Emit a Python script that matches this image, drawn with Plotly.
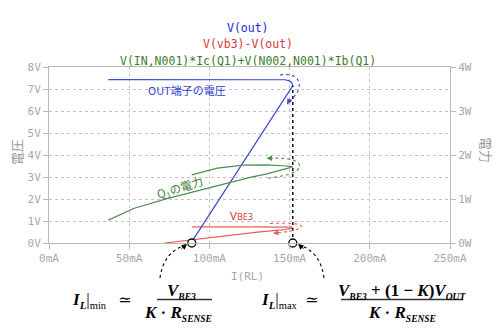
import plotly.graph_objects as go

# ---------------- data ----------------
# V(out) vs I(RL)  [mA, V]
i_out = [37, 60, 90, 120, 140, 147, 149.5, 151.2, 152, 140, 120, 100, 89]
v_out = [7.43, 7.43, 7.43, 7.43, 7.43, 7.42, 7.38, 7.30, 7.15, 5.80, 3.54, 1.29, 0.05]

# V(vb3)-V(out) vs I(RL)  [mA, V]
i_vbe = [72, 90, 110, 130, 145, 150, 152, 151, 140, 120, 100, 89]
v_vbe = [0.0, 0.16, 0.33, 0.49, 0.60, 0.64, 0.67, 0.72, 0.73, 0.73, 0.73, 0.73]

# Q1 power vs I(RL)  [mA, W]
i_pq = [37, 52.7, 73.5, 95, 115, 125.4, 135.8, 145, 152, 148, 136, 121, 105, 89]
p_q = [0.52, 0.785, 1.01, 1.21, 1.39, 1.49, 1.57, 1.66, 1.73, 1.75, 1.775, 1.77, 1.70, 1.55]

# limit points I_L|min and I_L|max
i_lim = [89, 152]
v_lim = [0, 0]
v_max_line = [0, 7.15]

x_ticks = [0, 50, 100, 150, 200, 250]
x_labels = ["0mA", "50mA", "100mA", "150mA", "200mA", "250mA"]
y_ticks = [0, 1, 2, 3, 4, 5, 6, 7, 8]
y_labels = ["0V", "1V", "2V", "3V", "4V", "5V", "6V", "7V", "8V"]
y2_ticks = [0, 1, 2, 3, 4]
y2_labels = ["0W", "1W", "2W", "3W", "4W"]

title_lines = ["V(out)", "V(vb3)-V(out)", "V(IN,N001)*Ic(Q1)+V(N002,N001)*Ib(Q1)"]

# ---------------- styling ----------------
BLUE = "#3b4bd8"
RED = "#e4615a"
GREEN = "#4f8f4f"
T_BLUE = "#2525d8"
T_RED = "#d83a3a"
T_GREEN = "#3c7d2c"
GRAY = "#a8a8a8"
AXC = "#b8b8b8"
MONO = "DejaVu Sans Mono"
SERIF = "Liberation Serif, DejaVu Serif, serif"
CJK = "Noto Sans CJK JP"

W_, H_ = 502, 335
L, R, T, B = 49, 450, 67, 243


def fx(x):
    return (x - L) / (R - L)


def fy(y):
    return (B - y) / (B - T)


def path(cmds):
    out = []
    for c in cmds:
        if isinstance(c, str):
            out.append(c)
        else:
            out.append(f"{fx(c[0]):.5f},{fy(c[1]):.5f}")
    return " ".join(out)


fig = go.Figure()

fig.add_trace(go.Scatter(x=i_pq, y=p_q, mode="lines", yaxis="y2",
                         line=dict(color=GREEN, width=1.2), hoverinfo="skip"))
fig.add_trace(go.Scatter(x=i_vbe, y=v_vbe, mode="lines",
                         line=dict(color=RED, width=1.2), hoverinfo="skip"))
fig.add_trace(go.Scatter(x=i_out, y=v_out, mode="lines",
                         line=dict(color=BLUE, width=1.2), hoverinfo="skip"))
fig.add_trace(go.Scatter(x=[i_lim[1], i_lim[1]], y=v_max_line, mode="lines",
                         line=dict(color="black", width=1.4, dash="dot"), hoverinfo="skip"))
fig.add_trace(go.Scatter(x=i_lim, y=v_lim, mode="markers", cliponaxis=False,
                         marker=dict(symbol="circle", size=8, color="white",
                                     line=dict(color="black", width=1.3)),
                         hoverinfo="skip"))

shapes = []
dot = dict(width=1.1, dash="dot")
# curved dotted direction arrows (pixel coordinates converted to paper)
shapes.append(dict(type="path", xref="paper", yref="paper",
                   path=path(["M", (280, 75), "C", (297, 72), (303, 82), (297, 93), "L", (288, 104)]),
                   line=dict(color=BLUE, **dot)))
shapes.append(dict(type="path", xref="paper", yref="paper",
                   path=path(["M", (268, 178), "C", (290, 176), (303, 170), (299, 164),
                              "C", (296, 159), (285, 158), (270, 158)]),
                   line=dict(color=GREEN, **dot)))
shapes.append(dict(type="path", xref="paper", yref="paper",
                   path=path(["M", (270, 223.5), "C", (292, 222.5), (306, 224), (300, 228),
                              "C", (295, 231), (285, 232), (276, 233)]),
                   line=dict(color=RED, **dot)))
shapes.append(dict(type="path", xref="paper", yref="paper",
                   path=path(["M", (160, 278), "Q", (163, 253), (185, 245)]),
                   line=dict(color="black", **dot)))
shapes.append(dict(type="path", xref="paper", yref="paper",
                   path=path(["M", (324, 278), "Q", (321, 253), (300, 245)]),
                   line=dict(color="black", **dot)))
# fraction bars
shapes.append(dict(type="line", xref="paper", yref="paper",
                   x0=fx(157), x1=fx(212), y0=fy(299.5), y1=fy(299.5),
                   line=dict(color="#333", width=1.5)))
shapes.append(dict(type="line", xref="paper", yref="paper",
                   x0=fx(341), x1=fx(463), y0=fy(299.5), y1=fy(299.5),
                   line=dict(color="#333", width=1.5)))

ann = []


def text(x, y, s, color, size, family, angle=0):
    ann.append(dict(x=fx(x), y=fy(y), xref="paper", yref="paper", text=s, showarrow=False,
                    xanchor="center", yanchor="middle", textangle=angle,
                    font=dict(color=color, size=size, family=family)))


def head(x, y, ax, ay, color):
    ann.append(dict(x=fx(x), y=fy(y), xref="paper", yref="paper", text="", showarrow=True,
                    ax=ax, ay=ay, arrowhead=2, arrowsize=1.1, arrowwidth=1,
                    arrowcolor=color, standoff=0))


def sub(s, px=9.5):
    return f"<sub><span style='font-size:{px}px'>{s}</span></sub>"


# titles
text(248, 27.5, title_lines[0], T_BLUE, 11.5, MONO)
text(248, 44, title_lines[1], T_RED, 11.5, MONO)
text(248, 60.5, title_lines[2], T_GREEN, 11.5, MONO)

# axis titles
text(247, 276, "I(RL)", GRAY, 11, MONO)
text(16, 152, "電圧", "#999", 13, CJK, -90)
text(487, 150, "電力", "#999", 13, CJK, 90)

# inline labels
text(187, 90, "OUT端子の電圧", "#2f3fd0", 11, CJK)
text(180, 187, "Q<sub>1</sub>の電力", "#3f8040", 11.5, CJK, -17)
text(241, 215, "V<span style='font-size:9px'>BE3</span>", "#e03a3a", 11.5, "Noto Sans")

# arrowheads
head(287, 104.5, 4, -7, BLUE)
head(266.5, 158.2, 8, 0, GREEN)
head(273, 233.3, 8, -1, RED)
head(187, 244, -7, 6, "black")
head(298, 244, 7, 6, "black")

# formulas
FS = 17
text(89, 300, "<b><i>I</i></b>" + sub("<b><i>L</i></b>", 11) + "|" + sub("min", 10.5), "black", FS, SERIF)
text(124, 299, "≃", "black", 16, SERIF)
text(181, 291, "<b><i>V</i></b>" + sub("<b><i>BE3</i></b>"), "black", FS, SERIF)
text(178, 313, "<b><i>K</i> · <i>R</i></b>" + sub("<b><i>SENSE</i></b>"), "black", FS, SERIF)

text(279, 300, "<b><i>I</i></b>" + sub("<b><i>L</i></b>", 11) + "|" + sub("max", 10.5), "black", FS, SERIF)
text(311, 299, "≃", "black", 16, SERIF)
text(402, 291, "<b><i>V</i></b>" + sub("<b><i>BE3</i></b>") + "<b> + (1 − <i>K</i>)<i>V</i></b>"
     + sub("<b><i>OUT</i></b>"), "black", FS, SERIF)
text(402, 313, "<b><i>K</i> · <i>R</i></b>" + sub("<b><i>SENSE</i></b>"), "black", FS, SERIF)

axis_common = dict(showgrid=True, gridcolor="#c4c4c4", griddash="3px,3px", gridwidth=1,
                   showline=True, linecolor=AXC, linewidth=1, ticks="outside",
                   ticklen=5, tickcolor=AXC, zeroline=False,
                   tickfont=dict(family=MONO, size=11, color=GRAY))

fig.update_layout(
    width=W_, height=H_, autosize=False,
    margin=dict(l=L, r=W_ - R, t=T, b=H_ - B, pad=0),
    paper_bgcolor="white", plot_bgcolor="white",
    showlegend=False,
    xaxis=dict(range=[0, 250], tickvals=x_ticks, ticktext=x_labels, mirror=True, **axis_common),
    yaxis=dict(range=[0, 8], tickvals=y_ticks, ticktext=y_labels, **axis_common),
    yaxis2=dict(range=[0, 4], tickvals=y2_ticks, ticktext=y2_labels, overlaying="y", side="right",
                **{**axis_common, "showgrid": False}),
    shapes=shapes, annotations=ann,
)

fig.write_html("out.html", config={"displayModeBar": False})
